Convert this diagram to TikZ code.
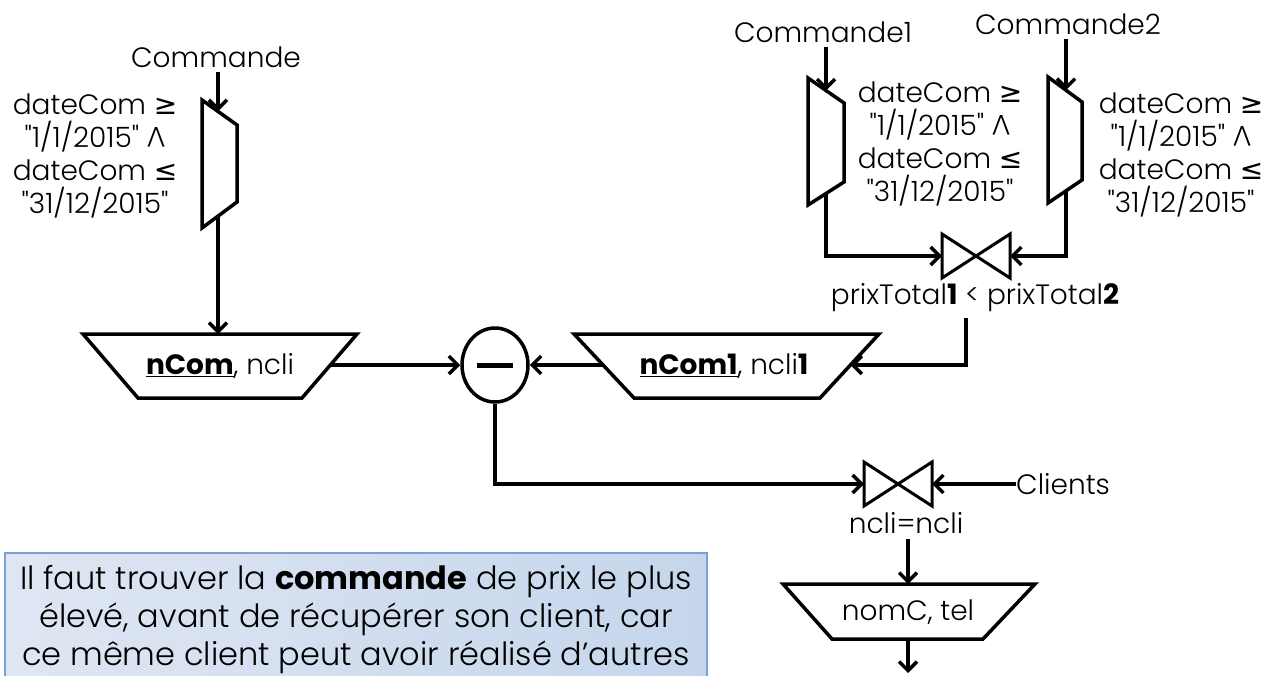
\documentclass[tikz,border=0pt]{standalone}
\usepackage{fontspec}
\usepackage{graphicx}
\setmainfont{Poppins Light}[BoldFont={Poppins Bold}]
\newfontfamily\qf{Poppins Light}[BoldFont={Poppins Bold}]
\newfontfamily\symf{DejaVu Sans}
\usetikzlibrary{arrows.meta,shapes.geometric}
\newcommand{\cge}{{\symf ≥}}
\newcommand{\cle}{{\symf ≤}}
\newcommand{\cand}{\rotatebox[origin=c]{180}{V}}
\newcommand{\dq}{{\qf\symbol{34}}}
\newcommand{\datecond}{dateCom \cge\\\dq1/1/2015\dq{} \cand\\dateCom \cle\\\dq31/12/2015\dq}

\begin{document}
\begin{tikzpicture}[x=1pt,y=-1pt,
  ln/.style={line width=3.5pt},
  arr/.style={ln,-{Straight Barb[length=9pt,width=18pt]}},
  shp/.style={line width=3.5pt,line join=miter},
  tie/.style={line width=3pt,line join=miter},
  lbl/.style={inner sep=0pt,font=\fontsize{28}{33}\selectfont},
  cond/.style={lbl,align=center},
  join/.pic={
    \draw[tie] (-34,-22) -- (-34,22) -- (34,-22) -- (34,22) -- cycle;
    \coordinate (-w) at (-34,0);
    \coordinate (-e) at (34,0);
  },
]
\path[use as bounding box,fill=white] (0,0) rectangle (1282,675);

% ---- selection on Commande ----
\node[lbl] (cmd) at (216,57) {Commande};
\draw[shp] (202,100) -- (237,125) -- (237,202) -- (202,228) -- cycle;
\coordinate (s1in) at (218,111.4);
\coordinate (s1out) at (218,216.1);
\node[cond] (cond1) at (95,156) {\datecond};
\draw[arr,shorten <=4pt] (cmd.south -| s1in) -- (s1in);

% ---- projection nCom, ncli ----
\draw[shp] (83,334) -- (357,334) -- (302,398) -- (138,398) -- cycle;
\node[lbl] (p1) at (220,366) {\underline{\textbf{nCom}}, ncli};
\coordinate (p1in) at (218,334);
\coordinate (p1out) at (330.4,365);
\draw[arr] (s1out) -- (p1in);

% ---- difference ----
\node[draw,ellipse,line width=3.5pt,minimum width=66pt,minimum height=74pt,inner sep=0pt] (diff) at (495,365) {};
\draw[line width=5pt] ([xshift=-18pt]diff.center) -- ([xshift=18pt]diff.center);
\draw[arr] (p1out) -- (diff.west);

% ---- projection nCom1, ncli1 ----
\draw[shp] (574,334) -- (879,334) -- (820,398) -- (634,398) -- cycle;
\node[lbl] (p2) at (724,366) {\underline{\textbf{nCom1}}, ncli\textbf{1}};
\coordinate (p2l) at (603,365);
\coordinate (p2r) at (850.4,365);
\draw[arr] (p2l) -- (diff.east);

% ---- self join of Commande ----
\node[lbl] (c1) at (823,32) {Commande1};
\node[lbl] (c2) at (1068,24) {Commande2};
\draw[shp] (808,78) -- (844,103) -- (844,182) -- (808,205) -- cycle;
\draw[shp] (1048,77) -- (1082,102) -- (1082,180) -- (1048,203) -- cycle;
\coordinate (s2in) at (826,90.5);
\coordinate (s2out) at (826,193.5);
\coordinate (s3in) at (1066,90.2);
\coordinate (s3out) at (1066,190.8);
\node[cond] (cond2) at (940,144) {\datecond};
\node[cond] (cond3) at (1181,155) {\datecond};
\draw[arr,shorten <=4pt] (c1.south -| s2in) -- (s2in);
\draw[arr,shorten <=4pt] (c2.south -| s3in) -- (s3in);
\pic (j1) at (976,256) {join};
\draw[arr] (s2out) |- (j1-w);
\draw[arr] (s3out) |- (j1-e);
\node[lbl] (prix) at (975,298) {prixTotal\textbf{1} < prixTotal\textbf{2}};
\coordinate (k1) at (966,318);
\draw[arr] (k1) |- (p2r);

% ---- join with Clients ----
\pic (j2) at (898,484) {join};
\draw[arr] (diff.south) |- (j2-w);
\node[lbl,anchor=west] (cl) at (1016,484) {Clients};
\draw[arr] (cl.west) -- (j2-e);
\node[lbl] (eq) at (906,523) {ncli=ncli};

% ---- final projection ----
\draw[shp] (783,584) -- (1035,584) -- (983,639) -- (832,639) -- cycle;
\node[lbl] (p3) at (908,612) {nomC, tel};
\coordinate (p3in) at (908,584);
\coordinate (p3out) at (908,639);
\coordinate (p3end) at (908,673);
\draw[arr,shorten <=5pt] (eq.south -| p3in) -- (p3in);
\draw[arr] (p3out) -- (p3end);

% ---- note ----
\begin{scope}
\clip (0,0) rectangle (1282,675);
\shade[left color={rgb,255:red,223;green,230;blue,243},right color={rgb,255:red,197;green,214;blue,236}] (5,553) rectangle (707,700);
\draw[line width=1.5pt,color={rgb,255:red,125;green,160;blue,212}] (5,553) rectangle (707,700);
\node[align=center,inner sep=0pt,font=\fontsize{32}{38}\selectfont] (note) at (356,620)
  {Il faut trouver la \textbf{commande} de prix le plus\\
   élevé, avant de récupérer son client, car\\
   ce même client peut avoir réalisé d’autres};
\end{scope}
\end{tikzpicture}
\end{document}
